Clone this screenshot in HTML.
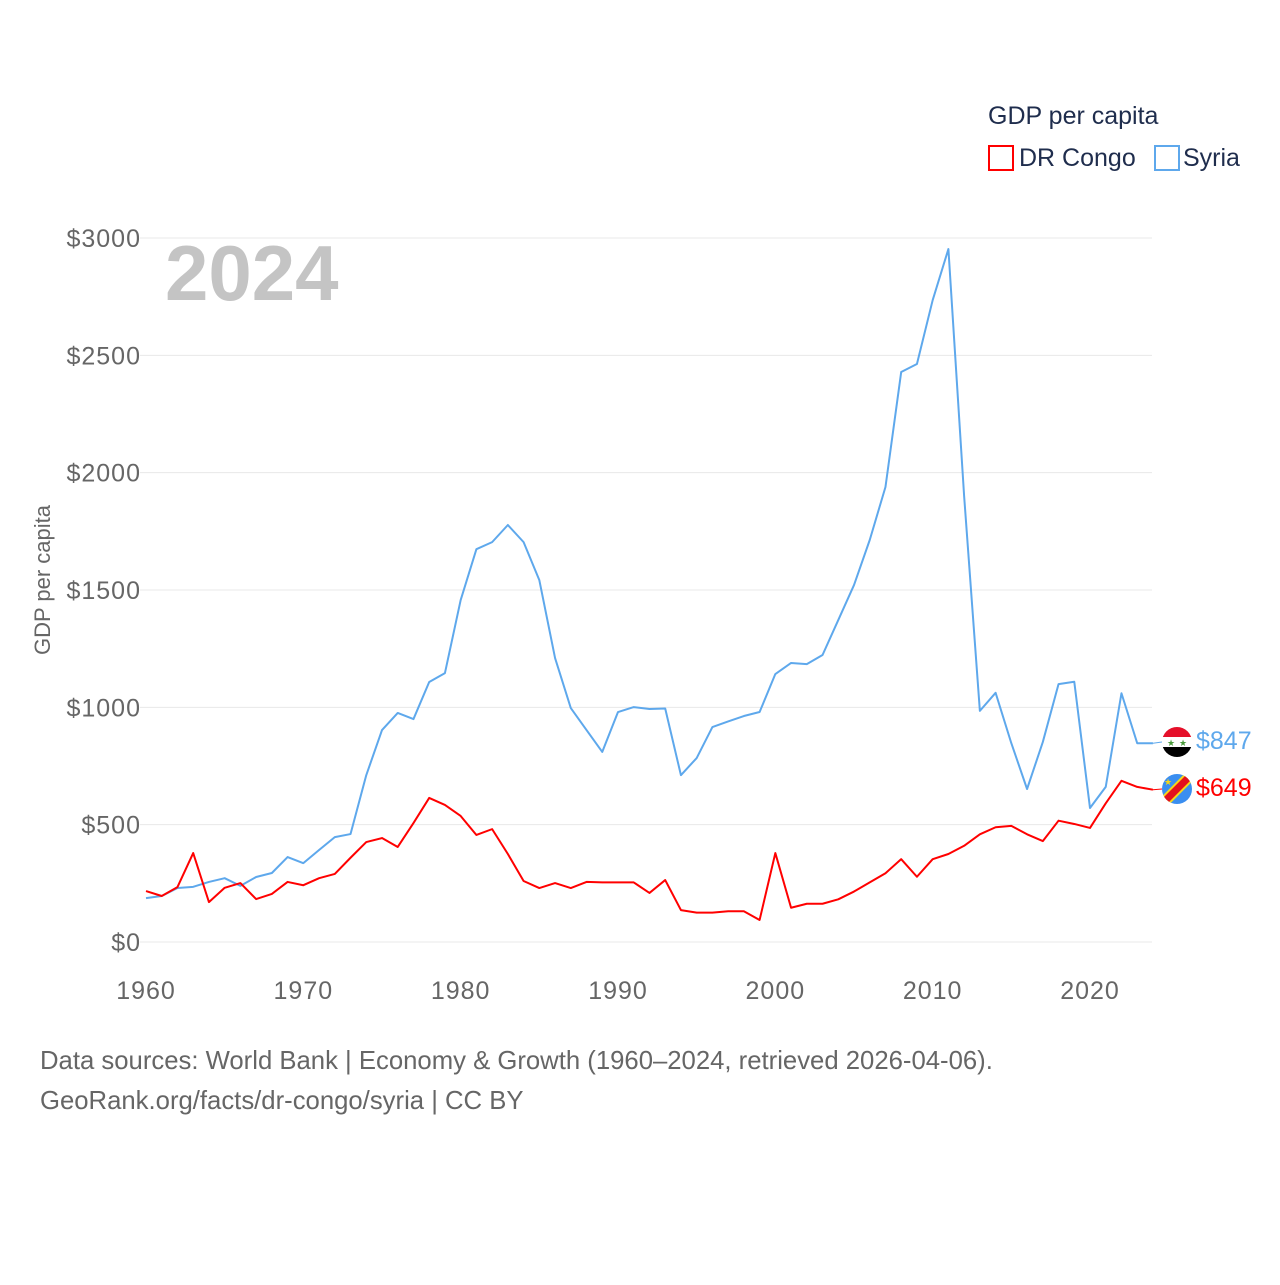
<!DOCTYPE html>
<html><head><meta charset="utf-8"><style>
body{margin:0;background:#fff;font-family:"Liberation Sans",sans-serif}
</style></head><body>
<svg id="chart" width="1280" height="1280" xmlns="http://www.w3.org/2000/svg">
<defs>
<clipPath id="c1"><circle cx="1177" cy="742" r="15"/></clipPath>
<clipPath id="c2"><circle cx="1177" cy="789" r="15"/></clipPath>
</defs>
<g id="grid"></g><g id="yt"></g><g id="xt"></g><g id="lines"></g>
<text x="165" y="300" font-size="78" font-weight="bold" fill="#c4c4c4">2024</text>
<text transform="translate(50,580) rotate(-90)" text-anchor="middle" font-size="22" fill="#666">GDP per capita</text>
<g>
<text x="988" y="124" font-size="25" fill="#1f2d4d">GDP per capita</text>
<rect x="989" y="146" width="24" height="24" fill="none" stroke="#ff0000" stroke-width="2"/>
<text x="1019" y="166" font-size="25" fill="#1f2d4d">DR Congo</text>
<rect x="1155" y="146" width="24" height="24" fill="none" stroke="#5ea8ec" stroke-width="2"/>
<text x="1183" y="166" font-size="25" fill="#1f2d4d">Syria</text>
</g>
<g clip-path="url(#c1)">
<rect x="1160" y="725" width="34" height="12" fill="#e5102a"/>
<rect x="1160" y="737" width="34" height="10" fill="#fff"/>
<rect x="1160" y="747" width="34" height="12" fill="#000"/>
<text x="1171" y="746" font-size="9" fill="#4a9a3c" text-anchor="middle">★</text>
<text x="1183" y="746" font-size="9" fill="#4a9a3c" text-anchor="middle">★</text>
</g>
<g clip-path="url(#c2)">
<rect x="1160" y="772" width="34" height="34" fill="#3a8ef0"/>
<line x1="1160" y1="806" x2="1194" y2="772" stroke="#f7d618" stroke-width="11"/>
<line x1="1160" y1="806" x2="1194" y2="772" stroke="#e3101e" stroke-width="7"/>
<text x="1168" y="785" font-size="9" fill="#f7d618" text-anchor="middle">★</text>
</g>
<text x="1196" y="749" font-size="25" fill="#5ea8ec">$847</text>
<text x="1196" y="796" font-size="25" fill="#ff0000">$649</text>
<text x="40" y="1069" font-size="25.7" fill="#666">Data sources: World Bank | Economy &amp; Growth (1960–2024, retrieved 2026-04-06).</text>
<text x="40" y="1109" font-size="25.7" fill="#666">GeoRank.org/facts/dr-congo/syria | CC BY</text>
</svg>
<script>
const years=[];for(let y=1960;y<=2024;y++)years.push(y);
const syria=[187,196,230,235,256,272,239,277,294,362,336,392,447,460,711,903,976,950,1108,1146,1457,1674,1704,1777,1704,1542,1210,997,903,810,980,1001,993,995,711,784,916,940,963,980,1142,1189,1184,1223,1372,1521,1713,1939,2429,2463,2735,2953,1900,985,1062,847,652,852,1099,1109,571,661,1060,847,847];
const congo=[217,196,234,379,170,231,251,183,205,256,242,272,290,359,426,443,405,507,614,584,537,456,481,375,260,230,251,230,256,254,254,254,209,264,136,125,125,131,131,94,379,146,163,163,182,215,254,293,353,278,353,375,410,459,489,495,459,430,517,503,486,591,687,661,649];
const yTicks=[0,500,1000,1500,2000,2500,3000];
const xTicks=[1960,1970,1980,1990,2000,2010,2020];
const X=v=>146+(v-1960)*(1090-146)/60;
const Y=v=>942-v*704/3000;
const NS="http://www.w3.org/2000/svg";
function mk(t,a,p){const e=document.createElementNS(NS,t);for(const k in a)e.setAttribute(k,a[k]);p.appendChild(e);return e;}
const g=document.getElementById('grid'),yt=document.getElementById('yt'),xt=document.getElementById('xt'),L=document.getElementById('lines');
yTicks.forEach(v=>{
 const l=mk('line',{x1:140,x2:1152,y1:Y(v),y2:Y(v),stroke:'#e8e8e8','stroke-width':1},g);
 
 
 const t=mk('text',{x:141,y:Y(v)+9,'text-anchor':'end','font-size':25,'letter-spacing':1,fill:'#666'},yt);t.textContent='$'+v;
 
 
});
xTicks.forEach(v=>{
 const t=mk('text',{x:X(v),y:999,'text-anchor':'middle','font-size':25,'letter-spacing':1,fill:'#666'},xt);t.textContent=v;
 
 
});
function line(d,c,name){
 const p=mk('polyline',{points:d.map((v,i)=>X(years[i])+','+Y(v)).join(' '),fill:'none',stroke:c,'stroke-width':2,'stroke-linejoin':'round'},L);
 
 
 const last=d[d.length-1];
 const c2=mk('line',{x1:X(2024),y1:Y(last),x2:1162,y2:name==='syria-line'?742:789,stroke:c,'stroke-width':1},L);
 
 
}
line(syria,'#5ea8ec','syria-line');
line(congo,'#ff0000','drcongo-line');
</script>
</body></html>
